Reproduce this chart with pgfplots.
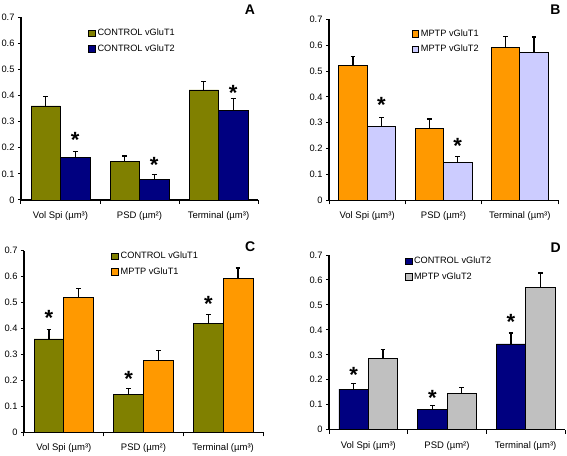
\documentclass[border=0pt]{standalone}
\usepackage{fontspec}
\setmainfont{Liberation Sans}
\usepackage{pgfplots}
\pgfplotsset{compat=1.18}
\definecolor{olivec}{HTML}{808000}
\definecolor{navyc}{HTML}{000080}
\definecolor{orangec}{HTML}{FF9900}
\definecolor{lavc}{HTML}{CCCCFF}
\definecolor{grayc}{HTML}{C0C0C0}
\tikzset{
  starnode/.style={font=\bfseries\fontsize{22}{22}\selectfont, inner sep=0pt, anchor=base, yshift=-13pt},
  panellab/.style={font=\bfseries\fontsize{14}{14}\selectfont, anchor=base},
}
\pgfplotsset{
  panel/.style={
    scale only axis,
    axis lines=left,
    axis line style={-, line width=1.1pt},
    ymin=0, ymax=0.7,
    ytick={0,0.1,0.2,0.3,0.4,0.5,0.6,0.7},
    yticklabel style={/pgf/number format/fixed,/pgf/number format/precision=1, font=\fontsize{9.3}{11}\selectfont},
    /pgf/number format/assume math mode=true,
    xmin=-0.5, xmax=2.5,
    xtick={0,1,2},
    xticklabels={Vol Spi (µm³), PSD (µm²), Terminal (µm³)},
    xticklabel style={font=\fontsize{9.5}{11}\selectfont, yshift=-5pt},
    major x tick style={draw=none},
    minor xtick={-0.5,0.5,1.5,2.5},
    minor tick length=4pt,
    major tick length=3pt,
    tick align=outside,
    tick style={black, line width=1pt},
    bar width=0.373,
    legend cell align=left,
    legend style={draw=none, fill=none, font=\fontsize{9.2}{11}\selectfont, inner sep=0pt, row sep=3.5pt, anchor=north west},
    legend image code/.code={\draw[#1, line width=0.5pt] (0pt,-3.3pt) rectangle (6.8pt,3.3pt);},
    clip=false,
  },
  bb/.style={ybar, bar shift=0pt, draw=black, line width=0.7pt, fill=#1,
    error bars/.cd, y dir=plus, y explicit,
    error bar style={line width=1.3pt, black},
    error mark options={rotate=90, mark size=2.3pt, line width=1.3pt, black}},
}
\begin{document}
\begin{tikzpicture}[x=1pt,y=1pt]
\path[use as bounding box] (0,0) rectangle (567,455);
% Panel A
\begin{axis}[panel, width=237pt, height=183pt, at={(21pt,255pt)}, anchor=south west,
  legend style={at={(0.283,0.945)}}]
\addplot[bb=olivec] coordinates {(-0.1865,0.36) +- (0,0.035) (0.8135,0.146) +- (0,0.022) (1.8135,0.421) +- (0,0.033)};
\addplot[bb=navyc] coordinates {(0.1865,0.163) +- (0,0.022) (1.1865,0.08) +- (0,0.017) (2.1865,0.344) +- (0,0.043)};
\legend{CONTROL vGluT1, CONTROL vGluT2}
\node[starnode] at (axis cs:0.1865,0.249) {*};
\node[starnode] at (axis cs:1.1865,0.153) {*};
\node[starnode] at (axis cs:2.1865,0.43) {*};
\node[panellab] at (rel axis cs:0.966,1.011) {A};
\end{axis}
% Panel B
\begin{axis}[panel, width=229pt, height=181pt, at={(329pt,254.7pt)}, anchor=south west,
  legend style={at={(0.36,0.955)}}]
\addplot[bb=orangec] coordinates {(-0.1865,0.52) +- (0,0.035) (0.8135,0.278) +- (0,0.036) (1.8135,0.592) +- (0,0.041)};
\addplot[bb=lavc] coordinates {(0.1865,0.287) +- (0,0.033) (1.1865,0.145) +- (0,0.024) (2.1865,0.571) +- (0,0.06)};
\legend{MPTP vGluT1, MPTP vGluT2}
\node[starnode] at (axis cs:0.1865,0.39) {*};
\node[starnode] at (axis cs:1.1865,0.233) {*};
\node[panellab] at (rel axis cs:0.989,1.028) {B};
\end{axis}
% Panel C
\begin{axis}[panel, width=239pt, height=181.6pt, at={(24pt,22.7pt)}, anchor=south west,
  legend style={at={(0.365,1.005)}}]
\addplot[bb=olivec] coordinates {(-0.1865,0.36) +- (0,0.035) (0.8135,0.146) +- (0,0.022) (1.8135,0.421) +- (0,0.033)};
\addplot[bb=orangec] coordinates {(0.1865,0.52) +- (0,0.035) (1.1865,0.278) +- (0,0.036) (2.1865,0.592) +- (0,0.041)};
\legend{CONTROL vGluT1, MPTP vGluT1}
\node[starnode] at (axis cs:-0.1865,0.462) {*};
\node[starnode] at (axis cs:0.8135,0.227) {*};
\node[starnode] at (axis cs:1.8135,0.516) {*};
\node[panellab] at (rel axis cs:0.946,0.993) {C};
\end{axis}
% Panel D
\begin{axis}[panel, width=236pt, height=174.7pt, at={(329pt,25.3pt)}, anchor=south west,
  legend style={at={(0.32,1.0)}}]
\addplot[bb=navyc] coordinates {(-0.1865,0.163) +- (0,0.022) (0.8135,0.08) +- (0,0.017) (1.8135,0.344) +- (0,0.043)};
\addplot[bb=grayc] coordinates {(0.1865,0.287) +- (0,0.033) (1.1865,0.145) +- (0,0.024) (2.1865,0.571) +- (0,0.057)};
\legend{CONTROL vGluT2, MPTP vGluT2}
\node[starnode] at (axis cs:-0.1865,0.243) {*};
\node[starnode] at (axis cs:0.8135,0.148) {*};
\node[starnode] at (axis cs:1.8135,0.453) {*};
\node[panellab] at (rel axis cs:0.96,1.017) {D};
\end{axis}
\end{tikzpicture}
\end{document}
